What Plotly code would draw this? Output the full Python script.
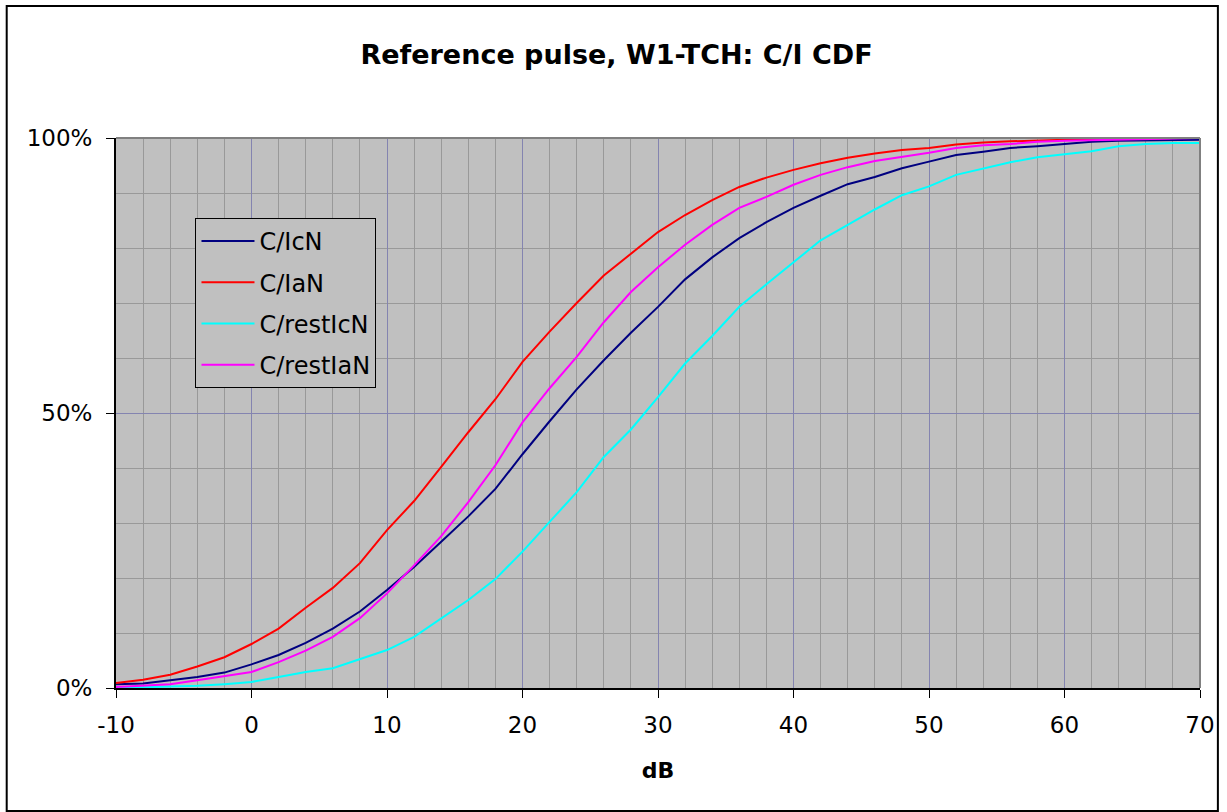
import plotly.graph_objects as go

db = list(range(-10, 71, 2))

c_icn = [0.7, 0.8, 1.4, 2.0, 2.8, 4.3, 6.0, 8.2, 10.8, 13.9, 17.8, 22.0, 26.6, 31.2, 36.2,
         42.5, 48.5, 54.3, 59.6, 64.6, 69.3, 74.3, 78.3, 81.8, 84.7, 87.3, 89.5, 91.6, 92.9,
         94.5, 95.7, 96.9, 97.5, 98.2, 98.5, 98.9, 99.3, 99.5, 99.6, 99.6, 99.7]
c_ian = [0.9, 1.5, 2.4, 3.9, 5.6, 8.0, 10.8, 14.6, 18.2, 22.7, 28.7, 34.0, 40.2, 46.5, 52.5,
         59.3, 64.8, 70.0, 75.0, 78.9, 82.9, 86.0, 88.7, 91.1, 92.8, 94.2, 95.4, 96.4, 97.2,
         97.8, 98.2, 98.8, 99.2, 99.4, 99.6, 99.7, 99.8, 99.9, 100, 100, 100]
c_rest_icn = [0.0, 0.1, 0.2, 0.4, 0.7, 1.1, 2.0, 2.9, 3.6, 5.2, 6.9, 9.3, 12.7, 16.0, 19.8,
              24.8, 30.2, 35.6, 42.0, 47.0, 52.9, 59.0, 64.0, 69.3, 73.4, 77.4, 81.4, 84.2,
              87.0, 89.6, 91.2, 93.3, 94.5, 95.6, 96.5, 97.1, 97.6, 98.5, 98.9, 99.1, 99.1]
c_rest_ian = [0.2, 0.4, 0.7, 1.4, 2.2, 2.9, 4.7, 6.8, 9.3, 12.7, 17.2, 22.3, 27.6, 33.8, 40.5,
              48.3, 54.5, 60.2, 66.5, 72.0, 76.5, 80.6, 84.2, 87.3, 89.3, 91.5, 93.3, 94.7,
              95.8, 96.5, 97.3, 98.2, 98.7, 98.9, 99.3, 99.5, 99.6, 99.8, 99.9, 100, 100]

series_names = ["C/IcN", "C/IaN", "C/restIcN", "C/restIaN"]
series_values = [c_icn, c_ian, c_rest_icn, c_rest_ian]
series_colors = ["#000080", "#FF0000", "#00FFFF", "#FF00FF"]

x_tickvals = [-10, 0, 10, 20, 30, 40, 50, 60, 70]
x_ticktext = ["-10", "0", "10", "20", "30", "40", "50", "60", "70"]
y_tickvals = [0, 50, 100]
y_ticktext = ["0%", "50%", "100%"]

FONT = "DejaVu Sans"

fig = go.Figure()
for i, (name, vals, col) in enumerate(zip(series_names, series_values, series_colors)):
    fig.add_trace(go.Scatter(x=db, y=vals, mode="lines", name=name,
                             legendgroup=f"g{i}",
                             line=dict(color=col, width=2)))

W, H = 1227, 812
L, R, T, B = 116, 20, 138, 124
pw, ph = W - L - R, H - T - B

fig.update_layout(
    width=W, height=H,
    margin=dict(l=L, r=R, t=T, b=B, pad=0),
    paper_bgcolor="white",
    plot_bgcolor="#C0C0C0",
    font=dict(family=FONT, size=23, color="black"),
    title=dict(text="<b>Reference pulse, W1-TCH: C/I CDF</b>",
               x=616.5 / W, xanchor="center", y=1 - 55 / H, yanchor="middle",
               font=dict(family=FONT, size=27, color="black")),
    showlegend=True,
    legend=dict(x=(196 - L) / pw, y=(H - B - 218) / ph, xanchor="left", yanchor="top",
                bgcolor="#C0C0C0", bordercolor="black", borderwidth=1,
                font=dict(family=FONT, size=24, color="black"),
                tracegroupgap=7, itemwidth=53),
    xaxis=dict(range=[-10, 70], tickvals=x_tickvals, ticktext=x_ticktext,
               showgrid=True, gridcolor="#8484B0", gridwidth=1,
               minor=dict(dtick=2, tick0=0, showgrid=True, gridcolor="#999999", gridwidth=1),
               ticks="outside", ticklen=8, tickwidth=1, tickcolor="black",
               showline=True, linecolor="black", linewidth=2,
               zeroline=False, ticklabelstandoff=7,
               title=dict(text="<b>dB</b>", font=dict(family=FONT, size=22), standoff=26)),
    yaxis=dict(range=[0, 100], tickvals=y_tickvals, ticktext=y_ticktext,
               showgrid=True, gridcolor="#8484B0", gridwidth=1,
               minor=dict(dtick=10, tick0=0, showgrid=True, gridcolor="#999999", gridwidth=1),
               ticks="outside", ticklen=8, tickwidth=1, tickcolor="black",
               showline=True, linecolor="black", linewidth=2,
               zeroline=False, ticklabelstandoff=9),
    shapes=[
        dict(type="line", xref="paper", yref="paper", x0=0, x1=1, y0=1, y1=1,
             line=dict(color="#808080", width=2), layer="above"),
        dict(type="line", xref="paper", yref="paper", x0=1, x1=1, y0=0, y1=1,
             line=dict(color="#808080", width=2), layer="above"),
        dict(type="rect", xref="paper", yref="paper",
             x0=(6 - L) / pw, x1=(1225 - L) / pw,
             y0=(H - B - 811) / ph, y1=(H - B - 6) / ph,
             line=dict(color="black", width=2), fillcolor="rgba(0,0,0,0)", layer="above"),
    ],
)

fig.write_html("out.html",
               config={"displayModeBar": False},
               post_script="document.body.style.margin='0px';document.body.style.overflow='hidden';")
